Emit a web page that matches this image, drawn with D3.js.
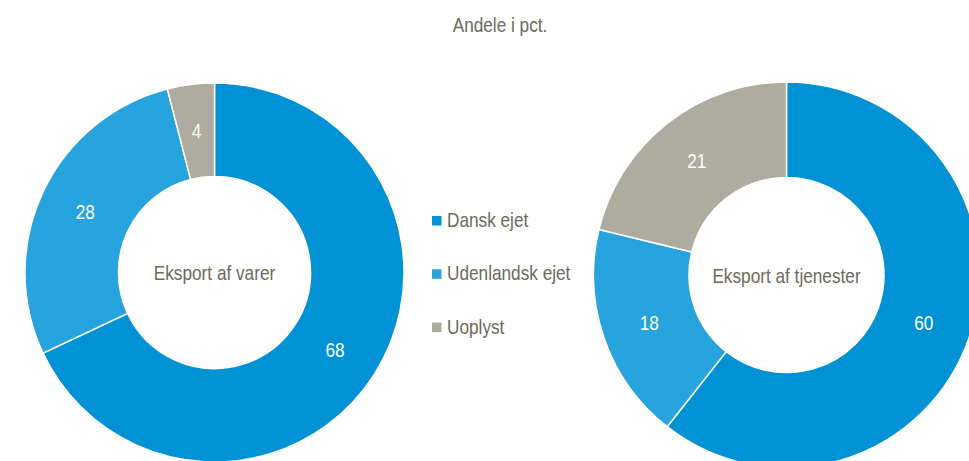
<!DOCTYPE html>
<html>
<head>
<meta charset="utf-8">
<script src="https://cdn.jsdelivr.net/npm/d3@7"></script>
<style>
  body { margin: 0; background: #fff; }
  svg text { font-family: "Liberation Sans", Arial, sans-serif; }
</style>
</head>
<body>
<svg width="969" height="461"></svg>
<script>
const categories = ["Dansk ejet", "Udenlandsk ejet", "Uoplyst"];
const varerValues = [68, 28, 4];
const tjenesterValues = [60, 18, 21];
const chartTitles = ["Eksport af varer", "Eksport af tjenester"];
const title = "Andele i pct.";

const colors = d3.scaleOrdinal()
  .domain(categories)
  .range(["#0092d4", "#27a3dd", "#adac9e"]);

const textColor = "#6b6a5b";
// the original uses a narrow face, squeeze Liberation Sans to match
const narrow = 0.82;
const at = (x, y) => `translate(${x},${y}) scale(${narrow},1)`;

const svg = d3.select("svg");

svg.append("text")
  .attr("transform", at(500, 31.5))
  .attr("text-anchor", "middle")
  .attr("fill", textColor)
  .style("font-size", "21px")
  .text(title);

const pie = d3.pie().sort(null);

// one donut per series
function donut(values, label, cx, cy, inner, outer) {
  const arc = d3.arc().innerRadius(inner).outerRadius(outer);
  const g = svg.append("g").attr("transform", `translate(${cx},${cy})`);
  const arcs = pie(values);

  g.selectAll("path")
    .data(arcs)
    .join("path")
    .attr("d", arc)
    .attr("fill", (d, i) => colors(categories[i]))
    .attr("stroke", "#fff")
    .attr("stroke-width", 1.5);

  g.selectAll("text.val")
    .data(arcs)
    .join("text")
    .attr("class", "val")
    .attr("transform", d => { const [x, y] = arc.centroid(d); return at(x, y); })
    .attr("text-anchor", "middle")
    .attr("dy", "0.36em")
    .attr("fill", "#fff")
    .style("font-size", "21px")
    .text(d => d.data);

  g.append("text")
    .attr("transform", at(0, 7.5))
    .attr("text-anchor", "middle")
    .attr("fill", textColor)
    .style("font-size", "21px")
    .text(label);
}

donut(varerValues, chartTitles[0], 214.5, 272.5, 96, 189.5);
donut(tjenesterValues, chartTitles[1], 786.5, 275, 97.5, 193);

// legend
const legend = svg.append("g").attr("transform", "translate(432,216)");
const rows = legend.selectAll("g")
  .data(categories)
  .join("g")
  .attr("transform", (d, i) => `translate(0,${i * 53.3})`);

rows.append("rect")
  .attr("width", 9.5)
  .attr("height", 9.5)
  .attr("fill", d => colors(d));

rows.append("text")
  .attr("transform", at(15, 10.9))
  .attr("fill", textColor)
  .style("font-size", "21px")
  .text(d => d);
</script>
</body>
</html>
